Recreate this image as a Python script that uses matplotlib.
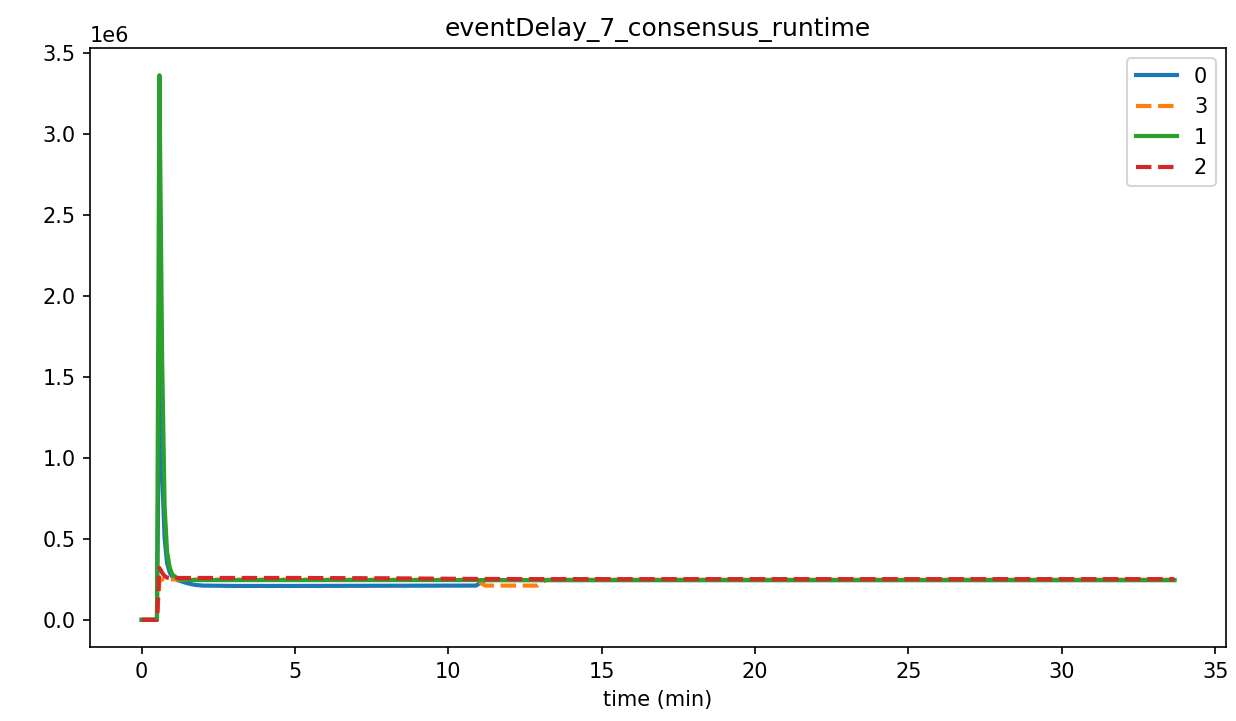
import matplotlib
matplotlib.use("Agg")
import matplotlib.pyplot as plt

time_min = [0, 0.5, 0.58, 0.67, 0.75, 0.83, 0.92, 1.0, 1.17, 1.33, 1.5, 1.75,
            2.0, 3.0, 5.0, 8.0, 10.9, 11.2, 12.9, 13.2, 20.0, 33.67]

series_0 = [0, 0, 1.60e6, 0.90e6, 0.50e6, 0.35e6, 0.29e6, 0.265e6, 0.245e6, 0.235e6,
            0.225e6, 0.215e6, 0.211e6, 0.209e6, 0.209e6, 0.210e6, 0.211e6, 0.245e6,
            0.245e6, 0.245e6, 0.245e6, 0.245e6]
series_3 = [0, 0, 0.24e6, 0.25e6, 0.25e6, 0.25e6, 0.25e6, 0.25e6, 0.249e6, 0.248e6,
            0.248e6, 0.248e6, 0.248e6, 0.248e6, 0.248e6, 0.247e6, 0.246e6, 0.211e6,
            0.211e6, 0.247e6, 0.247e6, 0.247e6]
series_1 = [0, 0, 3.36e6, 1.60e6, 0.70e6, 0.42e6, 0.32e6, 0.28e6, 0.255e6, 0.248e6,
            0.246e6, 0.245e6, 0.245e6, 0.245e6, 0.245e6, 0.245e6, 0.245e6, 0.245e6,
            0.245e6, 0.245e6, 0.245e6, 0.245e6]
series_2 = [0, 0, 0.32e6, 0.29e6, 0.27e6, 0.26e6, 0.258e6, 0.258e6, 0.258e6, 0.258e6,
            0.258e6, 0.258e6, 0.258e6, 0.258e6, 0.258e6, 0.256e6, 0.252e6, 0.252e6,
            0.251e6, 0.251e6, 0.251e6, 0.251e6]

labels = ["0", "3", "1", "2"]
styles = ["-", "--", "-", "--"]
colors = ["#1f77b4", "#ff7f0e", "#2ca02c", "#d62728"]
data = [series_0, series_3, series_1, series_2]

fig, ax = plt.subplots(figsize=(8.24, 4.807), dpi=150)
for lab, ls, c, y in zip(labels, styles, colors, data):
    ax.plot(time_min, y, ls, color=c, label=lab, linewidth=2)

ax.set_title("eventDelay_7_consensus_runtime")
ax.set_xlabel("time (min)")
ax.legend(loc="upper right")
fig.subplots_adjust(left=0.0728, right=0.9919, bottom=0.1026, top=0.9334)
fig.savefig("out.png", dpi=150)
